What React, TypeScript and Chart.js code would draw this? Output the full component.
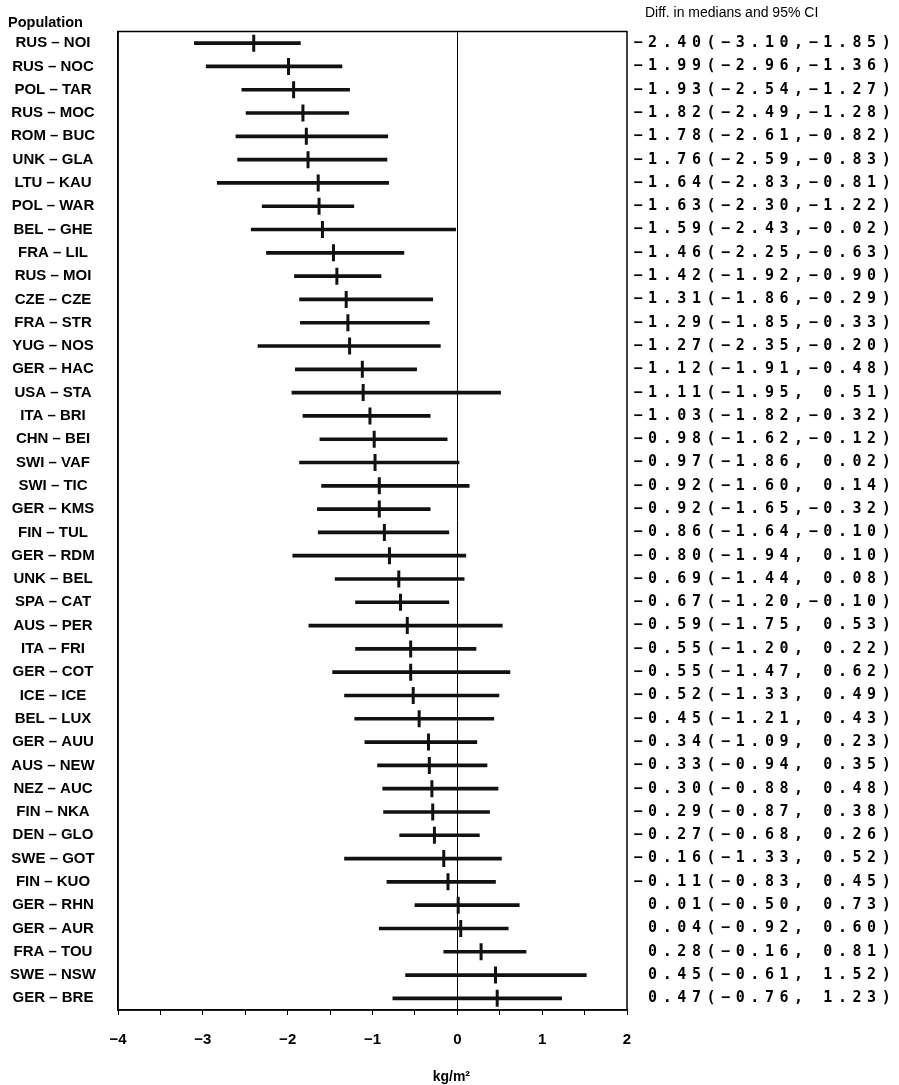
import React, { useEffect, useRef } from 'react';
import { Chart, registerables } from 'chart.js';

Chart.register(...registerables);

const populations = [
  'RUS-NOI', 'RUS-NOC', 'POL-TAR', 'RUS-MOC', 'ROM-BUC', 'UNK-GLA', 'LTU-KAU', 'POL-WAR',
  'BEL-GHE', 'FRA-LIL', 'RUS-MOI', 'CZE-CZE', 'FRA-STR', 'YUG-NOS', 'GER-HAC', 'USA-STA',
  'ITA-BRI', 'CHN-BEI', 'SWI-VAF', 'SWI-TIC', 'GER-KMS', 'FIN-TUL', 'GER-RDM', 'UNK-BEL',
  'SPA-CAT', 'AUS-PER', 'ITA-FRI', 'GER-COT', 'ICE-ICE', 'BEL-LUX', 'GER-AUU', 'AUS-NEW',
  'NEZ-AUC', 'FIN-NKA', 'DEN-GLO', 'SWE-GOT', 'FIN-KUO', 'GER-RHN', 'GER-AUR', 'FRA-TOU',
  'SWE-NSW', 'GER-BRE',
];

const medians = [
  -2.40, -1.99, -1.93, -1.82, -1.78, -1.76, -1.64, -1.63,
  -1.59, -1.46, -1.42, -1.31, -1.29, -1.27, -1.12, -1.11,
  -1.03, -0.98, -0.97, -0.92, -0.92, -0.86, -0.80, -0.69,
  -0.67, -0.59, -0.55, -0.55, -0.52, -0.45, -0.34, -0.33,
  -0.30, -0.29, -0.27, -0.16, -0.11, 0.01, 0.04, 0.28,
  0.45, 0.47,
];

const lower = [
  -3.10, -2.96, -2.54, -2.49, -2.61, -2.59, -2.83, -2.30,
  -2.43, -2.25, -1.92, -1.86, -1.85, -2.35, -1.91, -1.95,
  -1.82, -1.62, -1.86, -1.60, -1.65, -1.64, -1.94, -1.44,
  -1.20, -1.75, -1.20, -1.47, -1.33, -1.21, -1.09, -0.94,
  -0.88, -0.87, -0.68, -1.33, -0.83, -0.50, -0.92, -0.16,
  -0.61, -0.76,
];

const upper = [
  -1.85, -1.36, -1.27, -1.28, -0.82, -0.83, -0.81, -1.22,
  -0.02, -0.63, -0.90, -0.29, -0.33, -0.20, -0.48, 0.51,
  -0.32, -0.12, 0.02, 0.14, -0.32, -0.10, 0.10, 0.08,
  -0.10, 0.53, 0.22, 0.62, 0.49, 0.43, 0.23, 0.35,
  0.48, 0.38, 0.26, 0.52, 0.45, 0.73, 0.60, 0.81,
  1.52, 1.23,
];

const xMin = -4;
const xMax = 2;
const xStep = 0.5;
const leftHeader = 'Population';
const rightHeader = 'Diff. in medians and 95% CI';
const xTitle = 'kg/m²';

const fmtNum = (v: number) => (v < 0 ? '−' : ' ') + Math.abs(v).toFixed(2);
const fmtTick = (v: number) => (v < 0 ? '−' + Math.abs(v) : String(v));

export default function App() {
  const ref = useRef<HTMLCanvasElement>(null);

  useEffect(() => {
    const canvas = ref.current;
    if (!canvas) return;
    const labelFont = { family: '"Liberation Sans", Arial, sans-serif', size: 15, weight: 'bold' as const };
    const displayLabels = populations.map((p) => p.replace('-', ' – '));
    const mctx = canvas.getContext('2d')!;
    mctx.font = `bold 15px "Liberation Sans", Arial, sans-serif`;
    const widest = Math.max(...displayLabels.map((l) => mctx.measureText(l).width));
    const axisWidth = 118;
    const labelCenter = 53;
    const labelPad = axisWidth - labelCenter - widest / 2;

    const overlay = {
      id: 'overlay',
      afterDraw(chart: any) {
        const { ctx, chartArea, scales } = chart;
        const xs = scales.x;
        const ys = scales.y;
        ctx.save();
        // frame
        ctx.strokeStyle = '#000';
        ctx.lineWidth = 1.5;
        ctx.strokeRect(chartArea.left, chartArea.top, chartArea.right - chartArea.left, chartArea.bottom - chartArea.top);
        // headers
        ctx.fillStyle = '#000';
        ctx.textBaseline = 'middle';
        ctx.textAlign = 'left';
        ctx.font = 'bold 14.5px "Liberation Sans", Arial, sans-serif';
        ctx.fillText(leftHeader, 8, 23);
        ctx.font = '14px "Liberation Sans", Arial, sans-serif';
        ctx.fillText(rightHeader, chartArea.right + 18, 13);
        // right column
        ctx.font = 'bold 15px "DejaVu Sans Mono", monospace';
        ctx.textAlign = 'center';
        const pitch = 14.6;
        const x0 = chartArea.right + 11;
        medians.forEach((m, i) => {
          const s = fmtNum(m) + '(' + fmtNum(lower[i]) + ',' + fmtNum(upper[i]) + ')';
          const y = ys.getPixelForValue(i);
          for (let k = 0; k < s.length; k++) {
            if (s[k] !== ' ') ctx.fillText(s[k], x0 + k * pitch, y);
          }
        });
        // x title
        ctx.font = 'bold 14px "Liberation Sans", Arial, sans-serif';
        ctx.textAlign = 'center';
        ctx.fillText(xTitle, xs.getPixelForValue(0) - 6, 1077);
        ctx.restore();
      },
    };

    const chart = new Chart(canvas, {
      type: 'bar',
      data: {
        labels: displayLabels,
        datasets: [
          {
            type: 'bar',
            data: lower.map((l, i) => [l, upper[i]]) as any,
            backgroundColor: '#111',
            borderWidth: 0,
            barThickness: 3,
            borderSkipped: false,
          } as any,
          {
            type: 'line',
            indexAxis: 'y',
            data: medians.map((m, i) => ({ x: m, y: displayLabels[i] })) as any,
            showLine: false,
            pointStyle: 'line',
            rotation: 90,
            pointRadius: 8.5,
            pointHoverRadius: 8.5,
            pointBorderWidth: 3,
            borderColor: '#111',
            pointBorderColor: '#111',
            backgroundColor: '#111',
          } as any,
        ],
      },
      options: {
        indexAxis: 'y',
        responsive: false,
        animation: false,
        devicePixelRatio: 1,
        layout: { padding: { top: 31.5, right: 272, left: 0, bottom: 0 } },
        plugins: { legend: { display: false }, tooltip: { enabled: false } },
        scales: {
          x: {
            type: 'linear',
            position: 'bottom',
            min: xMin,
            max: xMax,
            ticks: {
              stepSize: xStep,
              autoSkip: false,
              maxRotation: 0,
              color: '#000',
              font: labelFont,
              padding: 16,
              callback: (v: any) => (Number.isInteger(Number(v)) ? fmtTick(Number(v)) : ''),
            },
            grid: {
              color: (c: any) => (c.tick && c.tick.value === 0 ? '#000' : 'rgba(0,0,0,0)'),
              tickColor: '#000',
              tickLength: 5,
              lineWidth: 1,
              drawTicks: true,
            },
            border: { display: true, color: '#000', width: 1.5 },
            afterFit: (s: any) => { s.height = 75; },
          },
          y: {
            type: 'category',
            position: 'left',
            offset: true,
            grid: { display: false, drawTicks: false },
            ticks: { crossAlign: 'center', padding: labelPad, color: '#000', font: labelFont, autoSkip: false },
            border: { display: true, color: '#000', width: 1.5 },
            afterFit: (s: any) => { s.width = axisWidth; },
          },
        },
      } as any,
      plugins: [overlay],
    });
    return () => chart.destroy();
  }, []);

  return (
    <div style={{ position: 'absolute', left: 0, top: 0, width: 899, height: 1085, background: '#fff' }}>
      <canvas ref={ref} width={899} height={1085} style={{ width: 899, height: 1085, display: 'block' }} />
    </div>
  );
}
